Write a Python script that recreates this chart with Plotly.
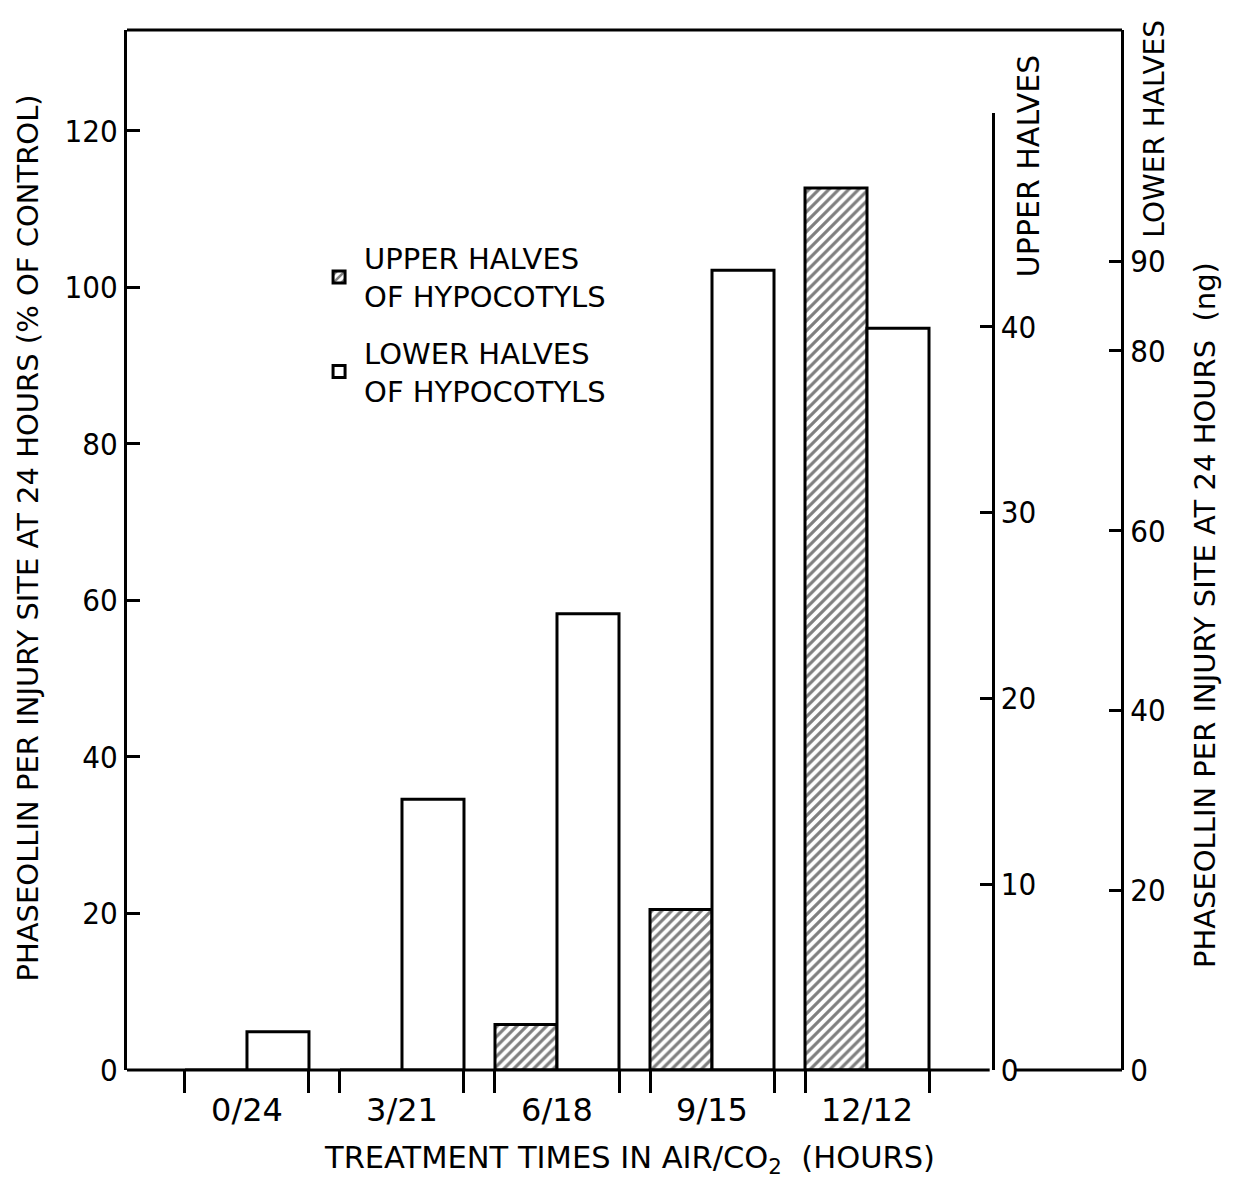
import plotly.graph_objects as go

# ---- data ----
categories = ["0/24", "3/21", "6/18", "9/15", "12/12"]
upper_pct = [0, 0, 5.8, 20.5, 112.7]        # upper halves of hypocotyls, % of control
lower_pct = [4.9, 34.6, 58.3, 102.2, 94.8]  # lower halves of hypocotyls, % of control
left_ticks = [0, 20, 40, 60, 80, 100, 120]
upper_ng_ticks = [0, 10, 20, 30, 40]
lower_ng_ticks = [0, 20, 40, 60, 80, 90]

FONT = "DejaVu Sans, Liberation Sans, sans-serif"
TICKFONT = "DejaVu Sans Condensed, DejaVu Sans, sans-serif"
idx = list(range(len(categories)))
half = 0.4

fig = go.Figure()
fig.add_trace(go.Bar(
    x=idx, y=upper_pct, name="UPPER HALVES<br>OF HYPOCOTYLS", legendgroup="u",
    marker=dict(color="white", line=dict(color="black", width=3),
                pattern=dict(shape="/", fgcolor="black", bgcolor="white",
                             size=7, solidity=0.45)),
))
fig.add_trace(go.Bar(
    x=idx, y=lower_pct, name="LOWER HALVES<br>OF HYPOCOTYLS", legendgroup="l",
    marker=dict(color="white", line=dict(color="black", width=3)),
))
# invisible traces to activate the tick-mark axis and the two ng axes
fig.add_trace(go.Scatter(x=[None], y=[None], xaxis="x2", yaxis="y", showlegend=False))
fig.add_trace(go.Scatter(x=[None], y=[None], xaxis="x", yaxis="y2", showlegend=False))
fig.add_trace(go.Scatter(x=[None], y=[None], xaxis="x", yaxis="y3", showlegend=False))

xr = [-0.774, 5.645]
edge_ticks = []
for i in idx:
    edge_ticks += [i - half, i + half]

tf = dict(size=31, family=TICKFONT)

fig.update_layout(
    width=1226, height=1174,
    margin=dict(l=119, r=112, t=22, b=112),
    paper_bgcolor="white", plot_bgcolor="rgba(0,0,0,0)",
    barmode="group", bargap=0.2, bargroupgap=0,
    font=dict(family=FONT, color="black", size=30),
    showlegend=True,
    legend=dict(x=0.188, y=0.805, xanchor="left", yanchor="top",
                font=dict(size=29, family=FONT), tracegroupgap=16,
                traceorder="grouped",
                bgcolor="rgba(0,0,0,0)", itemwidth=40),
    xaxis=dict(range=xr, tickmode="array", tickvals=idx, ticktext=categories,
               ticks="", showline=False, showgrid=False, zeroline=False,
               ticklabelstandoff=18, tickfont=dict(size=32, family=FONT)),
    xaxis2=dict(range=xr, overlaying="x", anchor="y", tickmode="array",
                tickvals=edge_ticks, ticks="outside", ticklen=22, tickwidth=2.5,
                tickcolor="black", showticklabels=False, showline=False,
                showgrid=False, zeroline=False),
    yaxis=dict(range=[0, 132.9], tickmode="array", tickvals=left_ticks,
               ticks="inside", ticklen=13, tickwidth=3, tickcolor="black",
               showline=True, linecolor="black", linewidth=3,
               showgrid=False, zeroline=False, tickfont=tf),
    yaxis2=dict(range=[0, 51.5], domain=[0, 0.92], anchor="free",
                side="right", position=0.870,
                tickmode="array", tickvals=upper_ng_ticks,
                ticks="inside", ticklen=12, tickwidth=3, tickcolor="black",
                showline=True, linecolor="black", linewidth=3,
                showgrid=False, zeroline=False, tickfont=tf),
    yaxis3=dict(range=[0, 115.7], anchor="free", overlaying="y", side="right",
                position=1.0, tickmode="array", tickvals=lower_ng_ticks,
                ticks="inside", ticklen=12, tickwidth=3, tickcolor="black",
                showline=True, linecolor="black", linewidth=3,
                showgrid=False, zeroline=False, tickfont=tf),
)

# frame: top border and broken bottom axis line
line = dict(color="black", width=3)
fig.add_shape(type="line", xref="paper", yref="paper", x0=0, x1=1, y0=1, y1=1, line=line)
fig.add_shape(type="line", xref="paper", yref="paper", x0=0, x1=0.867, y0=0, y1=0, line=line)
fig.add_shape(type="line", xref="paper", yref="paper", x0=0.893, x1=1, y0=0, y1=0, line=line)

# axis titles
fig.add_annotation(text="PHASEOLLIN PER INJURY SITE AT 24 HOURS (% OF CONTROL)",
                   xref="paper", yref="paper", x=-0.0995, y=0.512, textangle=-90,
                   showarrow=False, font=dict(size=29), xanchor="center", yanchor="middle")
fig.add_annotation(text="PHASEOLLIN PER INJURY SITE AT 24 HOURS&nbsp;&nbsp;(ng)",
                   xref="paper", yref="paper", x=1.083, y=0.437, textangle=-90,
                   showarrow=False, font=dict(size=29), xanchor="center", yanchor="middle")
fig.add_annotation(text="LOWER HALVES", xref="paper", yref="paper", x=1.033, y=0.905,
                   textangle=-90, showarrow=False, font=dict(size=28),
                   xanchor="center", yanchor="middle")
fig.add_annotation(text="UPPER HALVES", xref="paper", yref="paper", x=0.9055, y=0.870,
                   textangle=-90, showarrow=False, font=dict(size=30),
                   xanchor="center", yanchor="middle")
fig.add_annotation(text="TREATMENT TIMES IN AIR/CO<sub>2</sub>&nbsp;&nbsp;(HOURS)",
                   xref="paper", yref="paper", x=0.505, y=-0.0865,
                   showarrow=False, font=dict(size=30.5), xanchor="center", yanchor="middle")

fig.write_html("out.html")
